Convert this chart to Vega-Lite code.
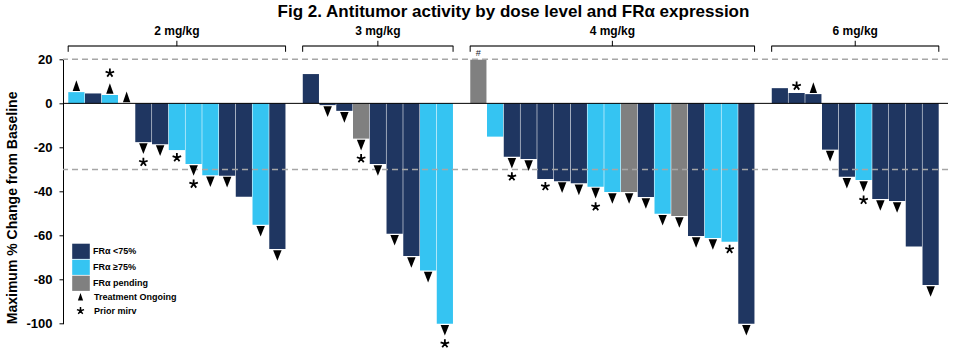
{
  "$schema": "https://vega.github.io/schema/vega-lite/v6.json",
  "width": 885,
  "height": 264.4,
  "autosize": "none",
  "padding": {"left": 63, "top": 59.3, "right": 11, "bottom": 29.3},
  "config": {"font": "Liberation Sans", "view": {"stroke": null}},
  "title": {
    "text": "Fig 2. Antitumor activity by dose level and FRα expression",
    "frame": "group", "anchor": "middle",
    "offset": 4, "dx": 8, "fontSize": 17, "fontWeight": "bold", "color": "black"
  },
  "data": {"values": [
    {"idx": 1, "dose": "2 mg/kg", "value": 5.1, "fra": "FRα ≥75%", "ongoing": true, "prior": false},
    {"idx": 2, "dose": "2 mg/kg", "value": 4.5, "fra": "FRα <75%", "ongoing": false, "prior": false},
    {"idx": 3, "dose": "2 mg/kg", "value": 3.8, "fra": "FRα ≥75%", "ongoing": true, "prior": true},
    {"idx": 4, "dose": "2 mg/kg", "value": 0, "fra": "FRα <75%", "ongoing": true, "prior": false},
    {"idx": 5, "dose": "2 mg/kg", "value": -17.6, "fra": "FRα <75%", "ongoing": true, "prior": true},
    {"idx": 6, "dose": "2 mg/kg", "value": -18.5, "fra": "FRα <75%", "ongoing": true, "prior": false},
    {"idx": 7, "dose": "2 mg/kg", "value": -21.2, "fra": "FRα ≥75%", "ongoing": false, "prior": true},
    {"idx": 8, "dose": "2 mg/kg", "value": -27.5, "fra": "FRα ≥75%", "ongoing": true, "prior": true},
    {"idx": 9, "dose": "2 mg/kg", "value": -32.6, "fra": "FRα ≥75%", "ongoing": true, "prior": false},
    {"idx": 10, "dose": "2 mg/kg", "value": -32.8, "fra": "FRα <75%", "ongoing": true, "prior": false},
    {"idx": 11, "dose": "2 mg/kg", "value": -42.4, "fra": "FRα <75%", "ongoing": false, "prior": false},
    {"idx": 12, "dose": "2 mg/kg", "value": -55.1, "fra": "FRα ≥75%", "ongoing": true, "prior": false},
    {"idx": 13, "dose": "2 mg/kg", "value": -66.1, "fra": "FRα <75%", "ongoing": true, "prior": false},
    {"idx": 15, "dose": "3 mg/kg", "value": 13.3, "fra": "FRα <75%", "ongoing": false, "prior": false},
    {"idx": 16, "dose": "3 mg/kg", "value": -0.8, "fra": "FRα <75%", "ongoing": true, "prior": false},
    {"idx": 17, "dose": "3 mg/kg", "value": -3.4, "fra": "FRα <75%", "ongoing": true, "prior": false},
    {"idx": 18, "dose": "3 mg/kg", "value": -16.0, "fra": "FRα pending", "ongoing": true, "prior": true},
    {"idx": 19, "dose": "3 mg/kg", "value": -27.5, "fra": "FRα <75%", "ongoing": true, "prior": false},
    {"idx": 20, "dose": "3 mg/kg", "value": -59.2, "fra": "FRα <75%", "ongoing": true, "prior": false},
    {"idx": 21, "dose": "3 mg/kg", "value": -69.3, "fra": "FRα <75%", "ongoing": true, "prior": false},
    {"idx": 22, "dose": "3 mg/kg", "value": -75.9, "fra": "FRα ≥75%", "ongoing": true, "prior": false},
    {"idx": 23, "dose": "3 mg/kg", "value": -100, "fra": "FRα ≥75%", "ongoing": true, "prior": true},
    {"idx": 25, "dose": "4 mg/kg", "value": 19.8, "fra": "FRα pending", "ongoing": false, "prior": false, "note": "#"},
    {"idx": 26, "dose": "4 mg/kg", "value": -15.1, "fra": "FRα ≥75%", "ongoing": false, "prior": false},
    {"idx": 27, "dose": "4 mg/kg", "value": -24.2, "fra": "FRα <75%", "ongoing": true, "prior": true},
    {"idx": 28, "dose": "4 mg/kg", "value": -25.3, "fra": "FRα <75%", "ongoing": true, "prior": false},
    {"idx": 29, "dose": "4 mg/kg", "value": -34.3, "fra": "FRα <75%", "ongoing": false, "prior": true},
    {"idx": 30, "dose": "4 mg/kg", "value": -35.3, "fra": "FRα <75%", "ongoing": true, "prior": false},
    {"idx": 31, "dose": "4 mg/kg", "value": -36.3, "fra": "FRα <75%", "ongoing": true, "prior": false},
    {"idx": 32, "dose": "4 mg/kg", "value": -37.8, "fra": "FRα ≥75%", "ongoing": true, "prior": true},
    {"idx": 33, "dose": "4 mg/kg", "value": -40.2, "fra": "FRα ≥75%", "ongoing": true, "prior": false},
    {"idx": 34, "dose": "4 mg/kg", "value": -40.2, "fra": "FRα pending", "ongoing": true, "prior": false},
    {"idx": 35, "dose": "4 mg/kg", "value": -42.5, "fra": "FRα <75%", "ongoing": true, "prior": false},
    {"idx": 36, "dose": "4 mg/kg", "value": -50.1, "fra": "FRα ≥75%", "ongoing": true, "prior": false},
    {"idx": 37, "dose": "4 mg/kg", "value": -51.1, "fra": "FRα pending", "ongoing": true, "prior": false},
    {"idx": 38, "dose": "4 mg/kg", "value": -60.2, "fra": "FRα <75%", "ongoing": true, "prior": false},
    {"idx": 39, "dose": "4 mg/kg", "value": -61.1, "fra": "FRα ≥75%", "ongoing": true, "prior": false},
    {"idx": 40, "dose": "4 mg/kg", "value": -62.8, "fra": "FRα ≥75%", "ongoing": false, "prior": true},
    {"idx": 41, "dose": "4 mg/kg", "value": -100, "fra": "FRα <75%", "ongoing": true, "prior": false},
    {"idx": 43, "dose": "6 mg/kg", "value": 6.9, "fra": "FRα <75%", "ongoing": false, "prior": false},
    {"idx": 44, "dose": "6 mg/kg", "value": 4.7, "fra": "FRα <75%", "ongoing": false, "prior": true},
    {"idx": 45, "dose": "6 mg/kg", "value": 4.2, "fra": "FRα <75%", "ongoing": true, "prior": false},
    {"idx": 46, "dose": "6 mg/kg", "value": -21.0, "fra": "FRα <75%", "ongoing": true, "prior": false},
    {"idx": 47, "dose": "6 mg/kg", "value": -33.3, "fra": "FRα <75%", "ongoing": true, "prior": false},
    {"idx": 48, "dose": "6 mg/kg", "value": -34.8, "fra": "FRα ≥75%", "ongoing": true, "prior": true},
    {"idx": 49, "dose": "6 mg/kg", "value": -43.4, "fra": "FRα <75%", "ongoing": true, "prior": false},
    {"idx": 50, "dose": "6 mg/kg", "value": -44.3, "fra": "FRα <75%", "ongoing": true, "prior": false},
    {"idx": 51, "dose": "6 mg/kg", "value": -65.0, "fra": "FRα <75%", "ongoing": false, "prior": false},
    {"idx": 52, "dose": "6 mg/kg", "value": -82.4, "fra": "FRα <75%", "ongoing": true, "prior": false}
  ]},
  "layer": [
    {
      "mark": {"type": "bar", "orient": "vertical", "width": 16.2},
      "encoding": {
        "x": {"field": "idx", "type": "quantitative", "scale": {"domain": [0.5, 52.74], "nice": false, "zero": false}, "axis": null},
        "y": {"field": "value", "type": "quantitative", "stack": null,
              "scale": {"domain": [-100, 20], "nice": false, "zero": false},
              "axis": {"title": "Maximum % Change from Baseline", "values": [20, 0, -20, -40, -60, -80, -100],
                       "grid": false, "domainColor": "black", "tickColor": "black", "tickSize": 4,
                       "labelFontSize": 13, "labelFontWeight": "bold", "labelColor": "black", "labelPadding": 7,
                       "labelExpr": "replace(datum.label, '−', '-')",
                       "titleFontSize": 14, "titleFontWeight": "bold", "titleColor": "black", "titlePadding": 6,
                       "titleAnchor": "start"}},
        "y2": {"datum": 0},
        "color": {"field": "fra", "type": "nominal",
                  "scale": {"domain": ["FRα <75%", "FRα ≥75%", "FRα pending"], "range": ["#1f3661", "#35c4f2", "#808080"]},
                  "legend": {"orient": "none", "legendX": 10, "legendY": 184, "title": null,
                             "symbolType": "M-1.1,-0.95H1.1V0.95H-1.1Z", "symbolSize": 256, "symbolStrokeWidth": 0,
                             "labelFontSize": 9, "labelFontWeight": "bold", "labelColor": "black",
                             "rowPadding": 0, "padding": 0, "labelOffset": 4}}
      }
    },
    {
      "data": {"values": [{"ref": 20}, {"ref": -30}]},
      "mark": {"type": "rule", "color": "#a6a6a6", "strokeWidth": 1.5, "strokeDash": [6, 4]},
      "encoding": {"y": {"field": "ref", "type": "quantitative", "title": "Maximum % Change from Baseline"}}
    },
    {
      "data": {"values": [{"ref": 0}]},
      "mark": {"type": "rule", "color": "black", "strokeWidth": 1},
      "encoding": {"y": {"field": "ref", "type": "quantitative", "title": "Maximum % Change from Baseline"}}
    },
    {
      "transform": [{"filter": "datum.ongoing && datum.value < 0"}],
      "mark": {"type": "point", "shape": "M-0.8,-1L0.8,-1L0,1Z", "filled": true, "color": "black", "opacity": 1, "size": 112, "yOffset": 6.5},
      "encoding": {
        "x": {"field": "idx", "type": "quantitative"},
        "y": {"field": "value", "type": "quantitative", "title": "Maximum % Change from Baseline"}
      }
    },
    {
      "transform": [{"filter": "datum.ongoing && datum.value >= 0"}],
      "mark": {"type": "point", "filled": true, "color": "black", "opacity": 1, "size": 112, "yOffset": -6.5},
      "encoding": {
        "x": {"field": "idx", "type": "quantitative"},
        "y": {"field": "value", "type": "quantitative", "title": "Maximum % Change from Baseline"},
        "shape": {"datum": "Treatment Ongoing", "type": "nominal",
                  "scale": {"domain": ["Treatment Ongoing", "Prior mirv"],
                            "range": ["M-0.7,1L0.7,1L0,-1Z", "M-0.2,0L-0.2,-1L0.2,-1L0.2,0ZM-0.062,-0.19L0.889,-0.499L1.013,-0.119L0.062,0.19ZM0.162,-0.118L0.75,0.691L0.426,0.927L-0.162,0.118ZM0.162,0.118L-0.426,0.927L-0.75,0.691L-0.162,-0.118ZM-0.062,0.19L-1.013,-0.119L-0.889,-0.499L0.062,-0.19Z"]},
                  "legend": {"orient": "none", "legendX": 13, "legendY": 233, "title": null,
                             "symbolSize": 56, "symbolFillColor": "black", "symbolStrokeColor": "black", "symbolStrokeWidth": 0.5,
                             "labelFontSize": 9, "labelFontWeight": "bold", "labelColor": "black",
                             "rowPadding": 3, "padding": 0, "labelOffset": 9}}
      }
    },
    {
      "transform": [{"filter": "datum.prior && datum.ongoing && datum.value < 0"}],
      "mark": {"type": "point", "filled": true, "color": "black", "opacity": 1, "size": 81, "yOffset": 20},
      "encoding": {
        "x": {"field": "idx", "type": "quantitative"},
        "y": {"field": "value", "type": "quantitative", "title": "Maximum % Change from Baseline"},
        "shape": {"datum": "Prior mirv", "type": "nominal"}
      }
    },
    {
      "transform": [{"filter": "datum.prior && !datum.ongoing && datum.value < 0"}],
      "mark": {"type": "point", "filled": true, "color": "black", "opacity": 1, "size": 81, "yOffset": 7.5},
      "encoding": {
        "x": {"field": "idx", "type": "quantitative"},
        "y": {"field": "value", "type": "quantitative", "title": "Maximum % Change from Baseline"},
        "shape": {"datum": "Prior mirv", "type": "nominal"}
      }
    },
    {
      "transform": [{"filter": "datum.prior && datum.ongoing && datum.value >= 0"}],
      "mark": {"type": "point", "filled": true, "color": "black", "opacity": 1, "size": 81, "yOffset": -22},
      "encoding": {
        "x": {"field": "idx", "type": "quantitative"},
        "y": {"field": "value", "type": "quantitative", "title": "Maximum % Change from Baseline"},
        "shape": {"datum": "Prior mirv", "type": "nominal"}
      }
    },
    {
      "transform": [{"filter": "datum.prior && !datum.ongoing && datum.value >= 0"}],
      "mark": {"type": "point", "filled": true, "color": "black", "opacity": 1, "size": 81, "yOffset": -7},
      "encoding": {
        "x": {"field": "idx", "type": "quantitative"},
        "y": {"field": "value", "type": "quantitative", "title": "Maximum % Change from Baseline"},
        "shape": {"datum": "Prior mirv", "type": "nominal"}
      }
    },
    {
      "transform": [{"filter": "datum.note"}],
      "mark": {"type": "text", "fontSize": 9, "color": "#1a1a2a", "baseline": "middle", "dy": -7},
      "encoding": {
        "x": {"field": "idx", "type": "quantitative"},
        "y": {"field": "value", "type": "quantitative", "title": "Maximum % Change from Baseline"},
        "text": {"field": "note"}
      }
    },
    {
      "mark": {"type": "rule", "color": "#6f6f6f", "strokeWidth": 2, "xOffset": -8.47, "x2Offset": 8.47},
      "encoding": {
        "x": {"aggregate": "min", "field": "idx", "type": "quantitative"},
        "x2": {"aggregate": "max", "field": "idx"},
        "y": {"datum": 26, "type": "quantitative", "title": "Maximum % Change from Baseline"},
        "detail": {"field": "dose", "type": "nominal"}
      }
    },
    {
      "mark": {"type": "rule", "color": "black", "strokeWidth": 1, "xOffset": -8.2},
      "encoding": {
        "x": {"aggregate": "min", "field": "idx", "type": "quantitative"},
        "y": {"datum": 26, "type": "quantitative", "title": "Maximum % Change from Baseline"},
        "y2": {"datum": 23.4},
        "detail": {"field": "dose", "type": "nominal"}
      }
    },
    {
      "mark": {"type": "rule", "color": "black", "strokeWidth": 1, "xOffset": 8.2},
      "encoding": {
        "x": {"aggregate": "max", "field": "idx", "type": "quantitative"},
        "y": {"datum": 26, "type": "quantitative", "title": "Maximum % Change from Baseline"},
        "y2": {"datum": 23.4},
        "detail": {"field": "dose", "type": "nominal"}
      }
    },
    {
      "mark": {"type": "rule", "color": "black", "strokeWidth": 1},
      "encoding": {
        "x": {"aggregate": "mean", "field": "idx", "type": "quantitative"},
        "y": {"datum": 26, "type": "quantitative", "title": "Maximum % Change from Baseline"},
        "y2": {"datum": 28.4},
        "detail": {"field": "dose", "type": "nominal"}
      }
    },
    {
      "mark": {"type": "text", "fontSize": 12, "fontWeight": "bold", "color": "black", "baseline": "middle"},
      "encoding": {
        "x": {"aggregate": "mean", "field": "idx", "type": "quantitative"},
        "y": {"datum": 32.8, "type": "quantitative", "title": "Maximum % Change from Baseline"},
        "text": {"field": "dose", "type": "nominal"}
      }
    }
  ]
}
